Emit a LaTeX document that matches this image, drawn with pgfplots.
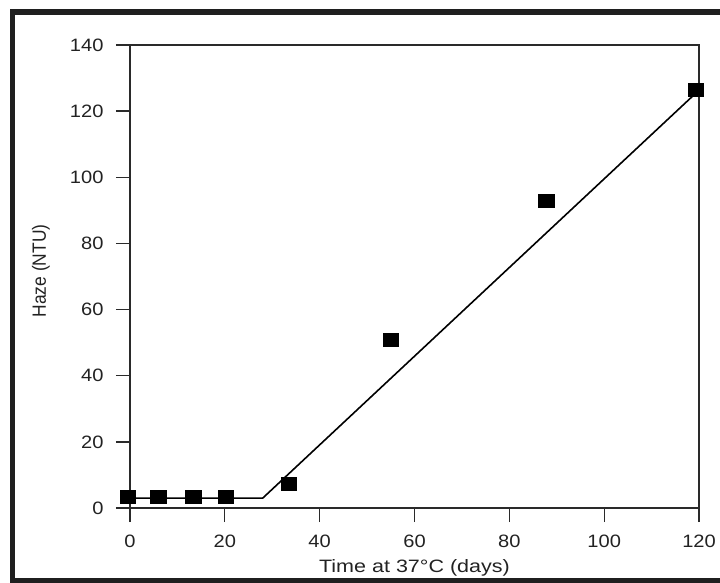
\documentclass[border=0pt]{standalone}
\usepackage{pgfplots}
\pgfplotsset{compat=1.18}
\usepackage{fontspec}
\setmainfont{Liberation Sans}
\usepackage{graphicx}
\definecolor{axisgray}{HTML}{2A2A2A}
\definecolor{txt}{HTML}{222222}
\begin{document}
\begin{tikzpicture}
\useasboundingbox (0bp,0bp) rectangle (720bp,583bp);
\begin{scope}
\clip (0bp,0bp) rectangle (720bp,583bp);
\draw[line width=5.5bp, color=black!88] (12.5bp,2bp) rectangle (760bp,571bp);
\end{scope}
\begin{axis}[
  at={(130bp,75bp)}, anchor=south west,
  scale only axis, width=569bp, height=463bp,
  xmin=0, xmax=120, ymin=0, ymax=140,
  clip=false,
  axis line style={color=axisgray, line width=1.3bp},
  xtick={0,20,...,120}, ytick={0,20,...,140},
  xtick pos=bottom, ytick pos=left,
  tick align=outside,
  major tick length=14bp,
  tick style={color=axisgray, line width=1.3bp},
  /pgf/number format/assume math mode=true,
  tick label style={font=\fontsize{18}{20}\selectfont, color=txt},
  xticklabel={\scalebox{1.12}[1]{\pgfmathprintnumber{\tick}}},
  yticklabel={\scalebox{1.12}[1]{\pgfmathprintnumber{\tick}}},
  xticklabel style={anchor=center, yshift=-19bp},
  yticklabel style={anchor=east, xshift=-9bp},
  xlabel={\scalebox{1.2}[1]{Time at 37°C (days)}},
  xlabel style={at={(axis description cs:0.5,0)}, anchor=center, yshift=-60bp, font=\fontsize{18}{20}\selectfont, color=txt},
  ylabel={\scalebox{1}[1.1]{Haze (NTU)}},
  ylabel style={at={(axis description cs:0,0.512)}, anchor=center, yshift=89bp, font=\fontsize{17.5}{19}\selectfont, color=txt},
]
\addplot[color=black, line width=1.6bp, no markers] coordinates {
(-1,3) (28,3) (119,125)
};
\addplot[only marks, mark=square*, mark size=6.5bp, color=black, mark options={xscale=1.2}] coordinates {
(-0.5,3.5) (6,3.5) (13.3,3.5) (20.2,3.5) (33.5,7.4) (55,50.8) (87.8,93) (119.3,126.6)
};
\end{axis}
\end{tikzpicture}
\end{document}
